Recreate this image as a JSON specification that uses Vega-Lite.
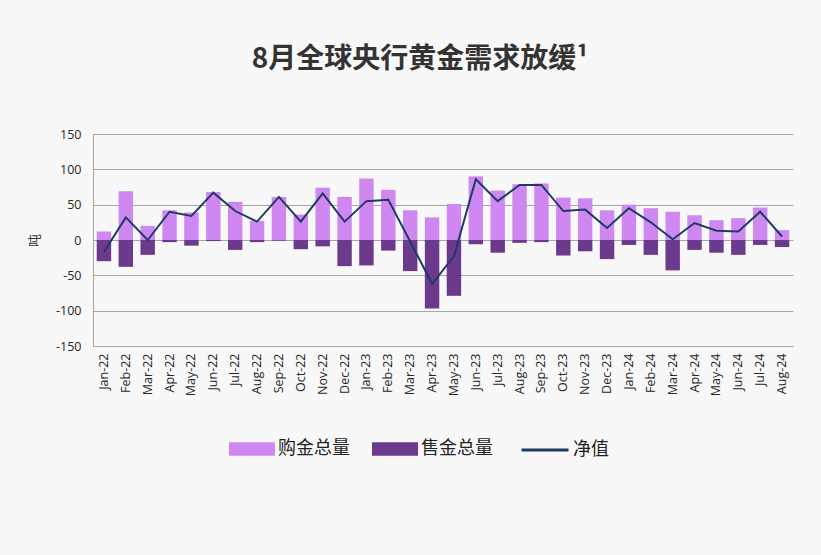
{
  "$schema": "https://vega.github.io/schema/vega-lite/v6.json",
  "autosize": {"type": "none"},
  "width": 700,
  "height": 212,
  "padding": {"left": 93, "top": 134, "right": 28, "bottom": 209},
  "background": "#f8f8f8",
  "title": {
    "text": "8月全球央行黄金需求放缓¹",
    "font": "Noto Sans CJK SC",
    "fontSize": 28,
    "fontWeight": "bold",
    "color": "#333333",
    "anchor": "middle",
    "dx": -23,
    "offset": 54
  },
  "config": {
    "view": {"stroke": null},
    "axis": {
      "labelFont": "Open Sans",
      "labelFontSize": 12.5,
      "labelColor": "#262626",
      "titleFont": "Noto Sans CJK SC"
    },
    "axisY": {
      "title": "吨",
      "titleFontSize": 13,
      "titleFontWeight": "normal",
      "titleColor": "#333333",
      "titlePadding": 14,
      "values": [-150, -100, -50, 0, 50, 100, 150],
      "labelExpr": "'' + datum.value",
      "labelOverlap": false,
      "labelFlush": false,
      "ticks": false,
      "labelPadding": 12,
      "grid": true,
      "gridColor": "#a6a6a6",
      "domainColor": "#a6a6a6"
    },
    "legend": {
      "labelFont": "Noto Sans CJK SC",
      "labelFontSize": 18,
      "labelColor": "#222222"
    }
  },
  "data": {
    "values": [
      {"月份": "Jan-22", "购金总量": 12, "售金总量": -30, "净值": -17},
      {"月份": "Feb-22", "购金总量": 69, "售金总量": -38, "净值": 32},
      {"月份": "Mar-22", "购金总量": 20, "售金总量": -21, "净值": 0},
      {"月份": "Apr-22", "购金总量": 42, "售金总量": -3, "净值": 40},
      {"月份": "May-22", "购金总量": 39, "售金总量": -8, "净值": 34},
      {"月份": "Jun-22", "购金总量": 68, "售金总量": -1.5, "净值": 67},
      {"月份": "Jul-22", "购金总量": 54, "售金总量": -14, "净值": 41},
      {"月份": "Aug-22", "购金总量": 27, "售金总量": -3, "净值": 26},
      {"月份": "Sep-22", "购金总量": 61, "售金总量": -1, "净值": 61},
      {"月份": "Oct-22", "购金总量": 36, "售金总量": -13, "净值": 26},
      {"月份": "Nov-22", "购金总量": 74, "售金总量": -9, "净值": 66},
      {"月份": "Dec-22", "购金总量": 61, "售金总量": -37, "净值": 26},
      {"月份": "Jan-23", "购金总量": 87, "售金总量": -36, "净值": 55},
      {"月份": "Feb-23", "购金总量": 71, "售金总量": -15, "净值": 57},
      {"月份": "Mar-23", "购金总量": 42, "售金总量": -44, "净值": -2},
      {"月份": "Apr-23", "购金总量": 32, "售金总量": -97, "净值": -62},
      {"月份": "May-23", "购金总量": 51, "售金总量": -79, "净值": -23},
      {"月份": "Jun-23", "购金总量": 90, "售金总量": -6, "净值": 86},
      {"月份": "Jul-23", "购金总量": 70, "售金总量": -18, "净值": 55},
      {"月份": "Aug-23", "购金总量": 79, "售金总量": -4, "净值": 78},
      {"月份": "Sep-23", "购金总量": 80, "售金总量": -3, "净值": 78},
      {"月份": "Oct-23", "购金总量": 60, "售金总量": -22, "净值": 41},
      {"月份": "Nov-23", "购金总量": 59, "售金总量": -16, "净值": 43},
      {"月份": "Dec-23", "购金总量": 42, "售金总量": -27, "净值": 17},
      {"月份": "Jan-24", "购金总量": 50, "售金总量": -7, "净值": 45},
      {"月份": "Feb-24", "购金总量": 45, "售金总量": -21, "净值": 25},
      {"月份": "Mar-24", "购金总量": 40, "售金总量": -43, "净值": 1},
      {"月份": "Apr-24", "购金总量": 35, "售金总量": -14, "净值": 24},
      {"月份": "May-24", "购金总量": 28, "售金总量": -18, "净值": 13},
      {"月份": "Jun-24", "购金总量": 31, "售金总量": -21, "净值": 12},
      {"月份": "Jul-24", "购金总量": 46, "售金总量": -7, "净值": 40},
      {"月份": "Aug-24", "购金总量": 14, "售金总量": -10, "净值": 5}
    ]
  },
  "encoding": {
    "x": {
      "field": "月份",
      "type": "nominal",
      "sort": null,
      "scale": {"paddingInner": 0.34, "paddingOuter": 0.17},
      "axis": {
        "title": null,
        "labelAngle": -90,
        "labelPadding": 7,
        "ticks": false,
        "domain": true,
        "domainColor": "#a6a6a6",
        "grid": false
      }
    }
  },
  "layer": [
    {
      "transform": [
        {"fold": ["购金总量", "售金总量"], "as": ["类型", "吨"]}
      ],
      "mark": {"type": "bar"},
      "encoding": {
        "y": {
          "field": "吨",
          "type": "quantitative",
          "stack": null,
          "title": "吨",
          "scale": {"domain": [-150, 150], "nice": false}
        },
        "color": {
          "field": "类型",
          "type": "nominal",
          "scale": {"domain": ["购金总量", "售金总量"], "range": ["#cf88f1", "#6c3a8c"]},
          "legend": {
            "title": null,
            "orient": "none",
            "legendX": 136,
            "legendY": 292,
            "direction": "horizontal",
            "columns": 2,
            "columnPadding": 22,
            "labelOffset": 3,
            "symbolType": "M-1,-0.29H1V0.29H-1Z",
            "symbolSize": 2116,
            "symbolOpacity": 1,
            "symbolStrokeWidth": 0
          }
        }
      }
    },
    {
      "mark": {"type": "line", "strokeWidth": 2},
      "encoding": {
        "y": {"field": "净值", "type": "quantitative", "title": "吨"},
        "stroke": {
          "datum": "净值",
          "type": "nominal",
          "scale": {"range": ["#1f3b63"]},
          "legend": {
            "title": null,
            "orient": "none",
            "legendX": 427,
            "legendY": 291,
            "labelOffset": 3,
            "symbolType": "stroke",
            "symbolSize": 2209,
            "symbolStrokeWidth": 3,
            "symbolStrokeColor": "#2b506e"
          }
        }
      }
    },
    {
      "mark": {"type": "rule", "color": "#a6a6a6"},
      "encoding": {"y": {"datum": 0}}
    }
  ]
}
